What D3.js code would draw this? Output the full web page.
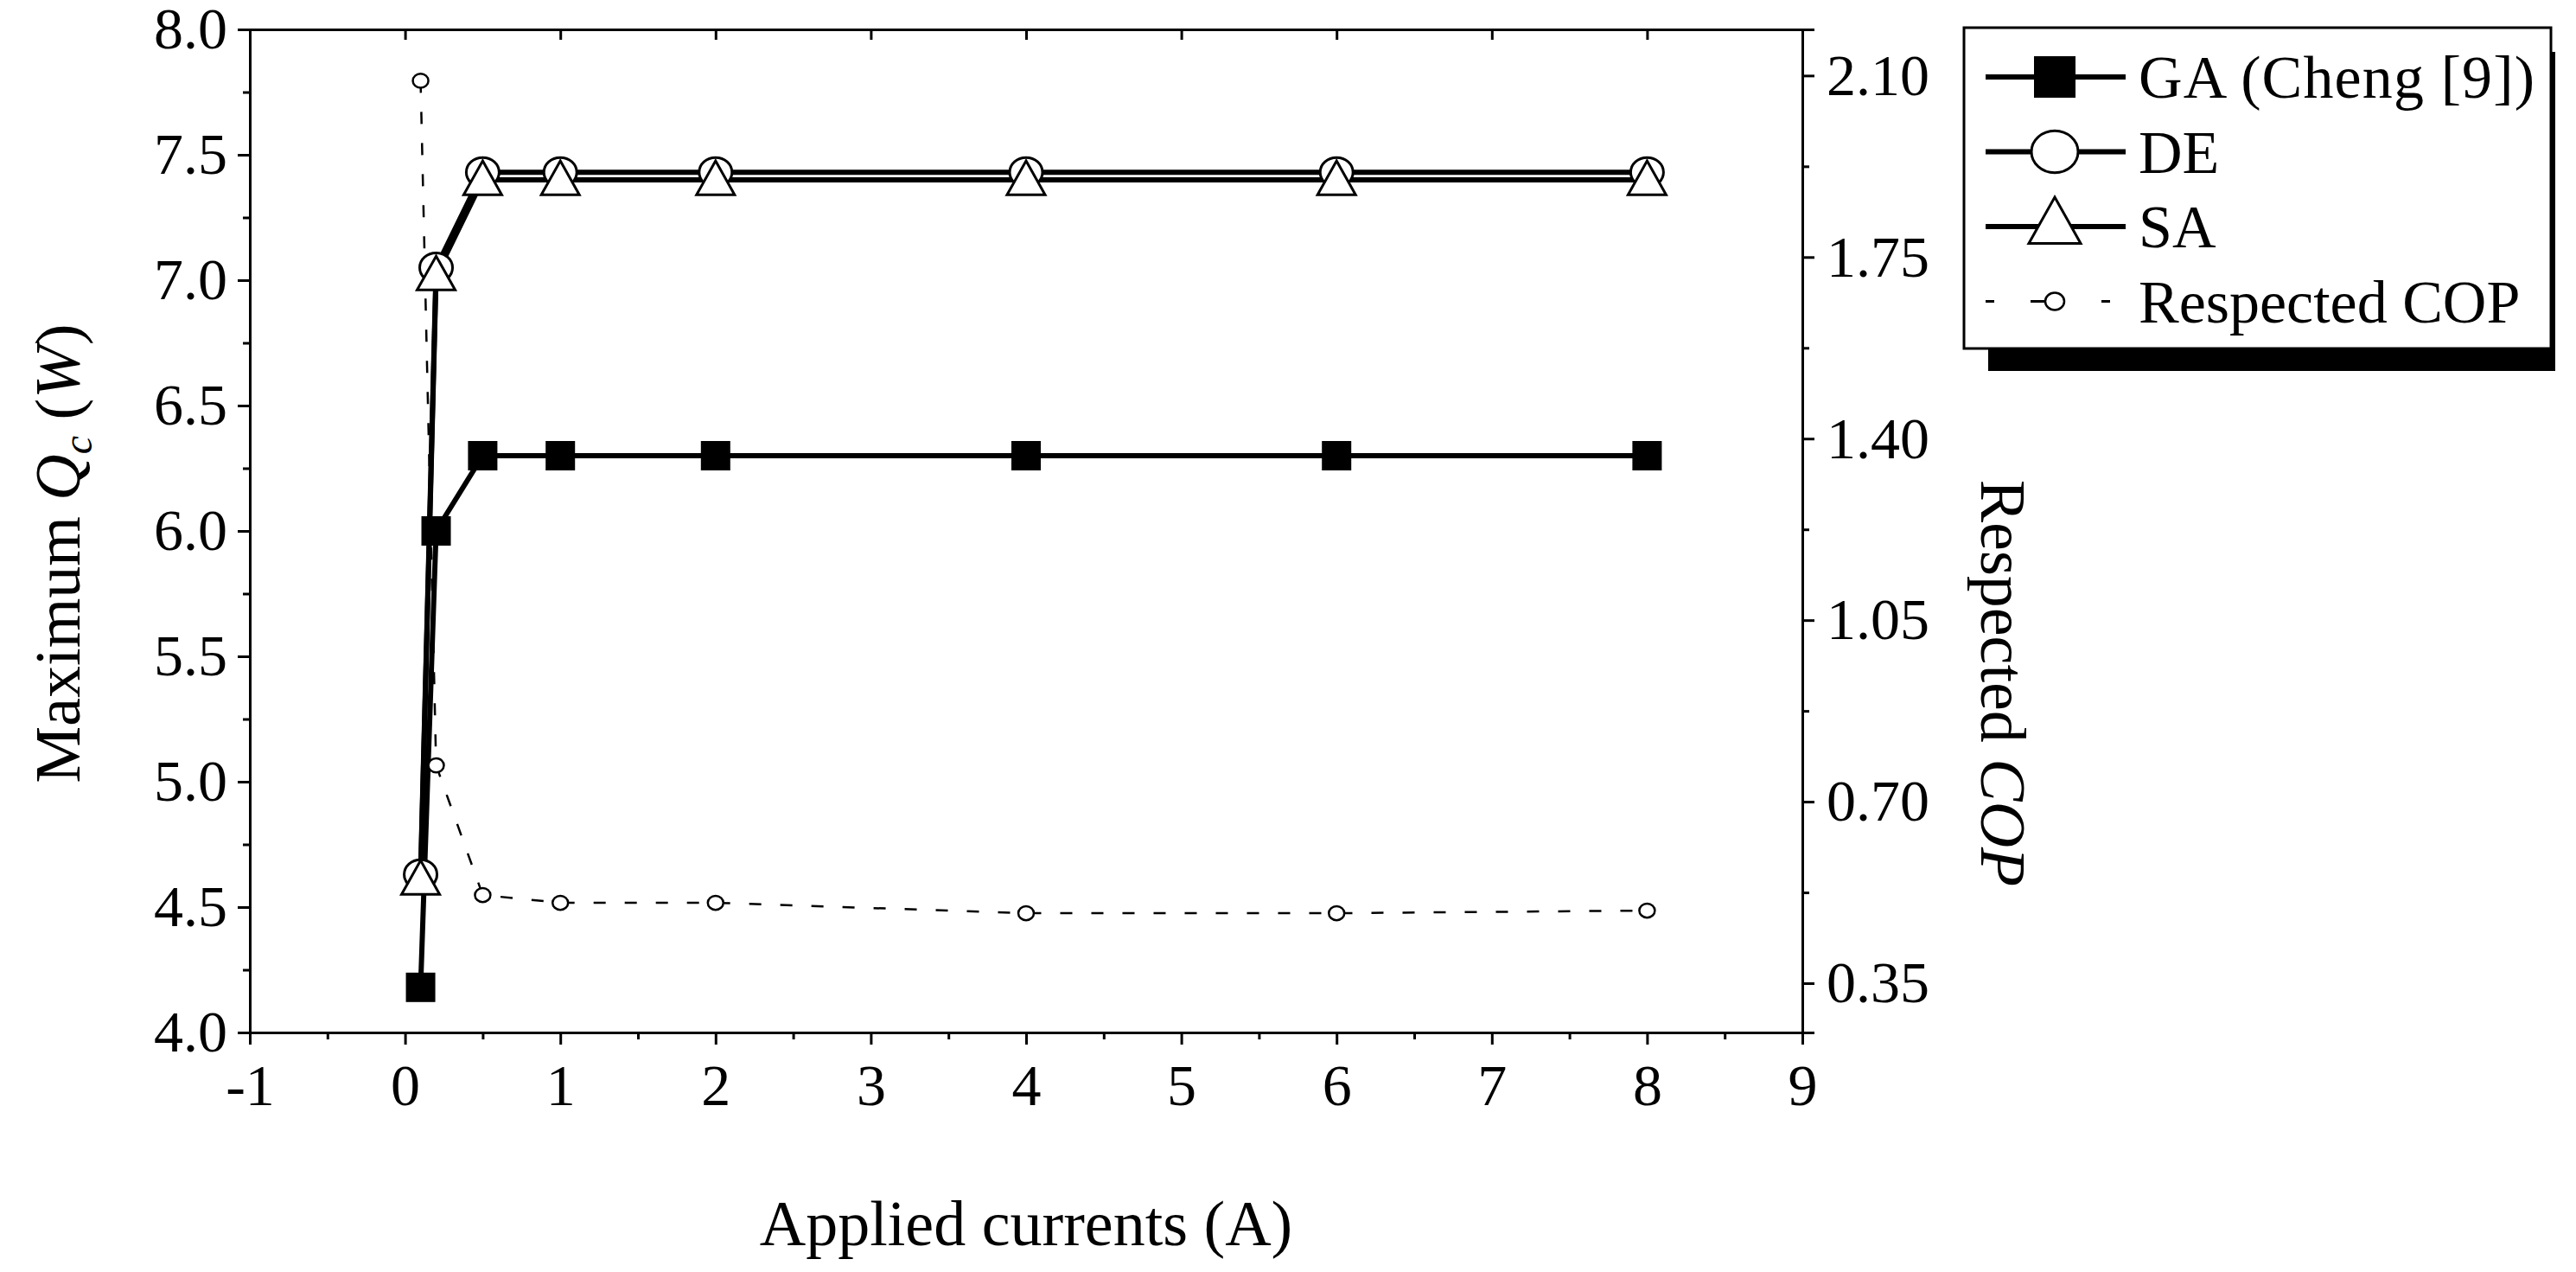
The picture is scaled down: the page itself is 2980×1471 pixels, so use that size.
<!DOCTYPE html>
<html><head><meta charset="utf-8">
<script src="https://cdn.jsdelivr.net/npm/d3@7"></script>
<style>
  body { margin: 0; background: #fff; }
  text { font-family: "Liberation Serif", "Times New Roman", serif; fill: #000; }
</style></head>
<body><svg id="c" width="2980" height="1471"></svg>
<script>
// applied currents (A)
const currents = [0.1, 0.2, 0.5, 1, 2, 4, 6, 8];
// maximum Qc (W) per method
const gaValues = [4.18, 6.0, 6.3, 6.3, 6.3, 6.3, 6.3, 6.3];
const deValues = [4.63, 7.05, 7.43, 7.43, 7.43, 7.43, 7.43, 7.43];
const saValues = [4.61, 7.02, 7.40, 7.40, 7.40, 7.40, 7.40, 7.40];
// respected COP (right axis)
const copValues = [2.09, 0.77, 0.52, 0.505, 0.505, 0.485, 0.485, 0.49];
const xTicks = [-1, 0, 1, 2, 3, 4, 5, 6, 7, 8, 9];
const yTicks = [4.0, 4.5, 5.0, 5.5, 6.0, 6.5, 7.0, 7.5, 8.0];
const y2Ticks = [0.35, 0.70, 1.05, 1.40, 1.75, 2.10];

const svg = d3.select("#c");
const L = 289, R = 2085, T = 34, B = 1194;
const x = d3.scaleLinear().domain([-1, 9]).range([L, R]);
const y = d3.scaleLinear().domain([4, 8]).range([B, T]);
const y2 = d3.scaleLinear().domain([0.255, 2.189]).range([B, T]);

// axes
const fs = 68;
svg.append("g").attr("transform", `translate(0,${B})`)
  .call(d3.axisBottom(x).tickValues(xTicks).tickFormat((d) => String(d)).tickSize(14).tickPadding(22));
svg.append("g").attr("transform", `translate(0,${B})`)
  .call(d3.axisBottom(x).tickValues(d3.range(-0.5, 9, 1)).tickFormat("").tickSize(8));
svg.append("g").attr("transform", `translate(${L},0)`)
  .call(d3.axisLeft(y).tickValues(yTicks).tickFormat(d3.format(".1f")).tickSize(14).tickPadding(12));
svg.append("g").attr("transform", `translate(${L},0)`)
  .call(d3.axisLeft(y).tickValues(d3.range(4.25, 8, 0.5)).tickFormat("").tickSize(8));
svg.append("g").attr("transform", `translate(0,${T})`)
  .call(d3.axisTop(x).tickValues(xTicks).tickFormat("").tickSize(-12));
svg.append("g").attr("transform", `translate(${R},0)`)
  .call(d3.axisRight(y2).tickValues(y2Ticks).tickFormat(d3.format(".2f")).tickSize(14).tickPadding(14));
svg.append("g").attr("transform", `translate(${R},0)`)
  .call(d3.axisRight(y2).tickValues(d3.range(0.525, 2.2, 0.35)).tickFormat("").tickSize(8));
svg.selectAll(".domain").attr("stroke", "#000").attr("stroke-width", 3);
svg.selectAll(".tick line").attr("stroke", "#000").attr("stroke-width", 3);
svg.selectAll(".tick text").style("font-size", fs + "px").style("font-family", "Liberation Serif");

// axis titles
svg.append("text").attr("x", (L + R) / 2).attr("y", 1440).attr("text-anchor", "middle")
  .style("font-size", "74px").text("Applied currents (A)");
const yl = svg.append("text").attr("transform", "translate(92,640) rotate(-90)")
  .attr("text-anchor", "middle").style("font-size", "74px");
yl.append("tspan").text("Maximum ");
yl.append("tspan").style("font-style", "italic").text("Q");
yl.append("tspan").style("font-style", "italic").style("font-size", "48px").attr("dy", 14).text("c");
yl.append("tspan").attr("dy", -14).text(" (");
yl.append("tspan").style("font-style", "italic").text("W");
yl.append("tspan").text(")");
const yr = svg.append("text").attr("transform", "translate(2292,790) rotate(90)")
  .attr("text-anchor", "middle").style("font-size", "74px");
yr.append("tspan").text("Respected ");
yr.append("tspan").style("font-style", "italic").text("COP");

// series
const pts = (vals, sc) => currents.map((c, i) => [x(c), sc(vals[i])]);
const line = d3.line();
const g = svg.append("g");
g.append("path").attr("d", line(pts(copValues, y2))).attr("fill", "none")
  .attr("stroke", "#000").attr("stroke-width", 2.5).attr("stroke-dasharray", "14,22");
[gaValues, deValues, saValues].forEach((v) => {
  g.append("path").attr("d", line(pts(v, y))).attr("fill", "none")
    .attr("stroke", "#000").attr("stroke-width", 6);
});

function square(sel, cx, cy, h) {
  h = h || 17;
  sel.append("rect").attr("x", cx - h).attr("y", cy - h).attr("width", 2 * h).attr("height", 2 * h).attr("fill", "#000");
}
function circle(sel, cx, cy, r, sw) {
  sel.append("ellipse").attr("cx", cx).attr("cy", cy).attr("rx", r).attr("ry", r * 0.9)
    .attr("fill", "#fff").attr("stroke", "#000").attr("stroke-width", sw);
}
function tri(sel, cx, cy, s) {
  s = s || 22;
  sel.append("path").attr("d", `M${cx},${cy - s}L${cx + s},${cy + s * 0.78}L${cx - s},${cy + s * 0.78}Z`)
    .attr("fill", "#fff").attr("stroke", "#000").attr("stroke-width", 3);
}
pts(copValues, y2).forEach(([a, b]) => circle(g, a, b, 9, 2.5));
pts(gaValues, y).forEach(([a, b]) => square(g, a, b));
pts(deValues, y).forEach(([a, b]) => circle(g, a, b, 19, 3));
pts(saValues, y).forEach(([a, b]) => tri(g, a, b));

// legend
const lg = svg.append("g");
lg.append("rect").attr("x", 2300).attr("y", 60).attr("width", 656).attr("height", 369).attr("fill", "#000");
lg.append("rect").attr("x", 2272).attr("y", 32).attr("width", 679).attr("height", 371)
  .attr("fill", "#fff").attr("stroke", "#000").attr("stroke-width", 3);
const rows = [
  { label: "GA (Cheng [9])", draw: (cy) => square(lg, 2377, cy, 24) },
  { label: "DE", draw: (cy) => circle(lg, 2377, cy, 27, 3) },
  { label: "SA", draw: (cy) => tri(lg, 2377, cy - 4, 30) },
  { label: "Respected COP", dash: true, draw: (cy) => circle(lg, 2377, cy, 11, 2.5) },
];
rows.forEach((r, i) => {
  const cy = 89 + i * 86.5;
  if (r.dash) {
    lg.append("line").attr("x1", 2297).attr("x2", 2443).attr("y1", cy).attr("y2", cy)
      .attr("stroke", "#000").attr("stroke-width", 3).attr("stroke-dasharray", "10,42,20,0,20,42,10");
  } else {
    lg.append("line").attr("x1", 2297).attr("x2", 2459).attr("y1", cy).attr("y2", cy)
      .attr("stroke", "#000").attr("stroke-width", 6);
  }
  r.draw(cy);
  lg.append("text").attr("x", 2474).attr("y", cy + 24).style("font-size", "70px")
    .attr("textLength", r.label === "GA (Cheng [9])" ? 458 : null).text(r.label);
});
</script></body></html>
